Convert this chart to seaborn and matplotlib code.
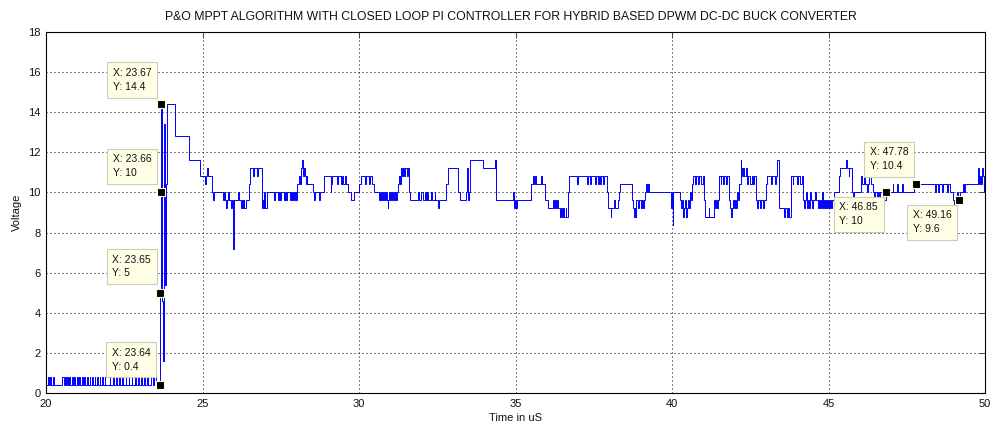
import numpy as np
import pandas as pd
import matplotlib
matplotlib.use("Agg")
import matplotlib.pyplot as plt
import seaborn as sns

# ---------------- data ----------------
# baseline chatter before the start-up (time in uS, voltage)
t_base = [20.00, 20.06, 20.10, 20.13, 20.17, 20.21, 20.25, 20.36, 20.52, 20.56,
          20.60, 20.63, 20.67, 20.70, 20.75, 20.78, 20.83, 20.86, 20.91, 20.94,
          20.99, 21.02, 21.07, 21.10, 21.15, 21.18, 21.23, 21.26, 21.31, 21.34,
          21.39, 21.42, 21.47, 21.50, 21.55, 21.58, 21.63, 21.66, 21.71, 21.74,
          21.79, 21.82, 21.87, 21.90, 21.96, 22.04, 22.06, 22.14, 22.16, 22.24,
          22.26, 22.34, 22.36, 22.44, 22.46, 22.54, 22.56, 22.64, 22.66, 22.74,
          22.76, 22.84, 22.86, 22.94, 22.96, 23.04, 23.06, 23.14, 23.16, 23.24,
          23.26, 23.34, 23.42, 23.46, 23.50]
v_base = [0.4, 0.8, 0.4, 0.8, 0.4, 0.8, 0.4, 0.4, 0.8, 0.4,
          0.8, 0.4, 0.8, 0.4, 0.8, 0.4, 0.8, 0.4, 0.8, 0.4,
          0.8, 0.4, 0.8, 0.4, 0.8, 0.4, 0.8, 0.4, 0.8, 0.4,
          0.8, 0.4, 0.8, 0.4, 0.8, 0.4, 0.8, 0.4, 0.8, 0.4,
          0.8, 0.4, 0.8, 0.4, 0.4, 0.8, 0.4, 0.8, 0.4, 0.8,
          0.4, 0.8, 0.4, 0.8, 0.4, 0.8, 0.4, 0.8, 0.4, 0.8,
          0.4, 0.8, 0.4, 0.8, 0.4, 0.8, 0.4, 0.8, 0.4, 0.8,
          0.4, 0.8, 0.4, 0.8, 0.4]

# start-up transient
t_rise = [23.64, 23.65, 23.66, 23.67, 23.715, 23.72, 23.725, 23.76, 23.79, 23.83,
          23.86, 24.13, 24.56, 24.93, 25.08, 25.11, 25.15, 25.19, 25.29, 25.33]
v_rise = [0.4, 5.0, 10.0, 14.4, 5.2, 4.6, 1.6, 13.4, 5.4, 10.4,
          14.4, 12.8, 11.6, 10.8, 10.4, 10.8, 11.2, 10.8, 10.0, 9.6]

t_mid1 = [25.36, 25.65, 25.70, 25.72, 25.74, 25.77, 25.82, 25.84, 25.90, 25.93,
          25.96, 25.99, 26.01, 26.03, 26.14, 26.16, 26.22, 26.25, 26.28, 26.31,
          26.34, 26.38, 26.49, 26.52, 26.62, 26.65, 26.74, 26.77, 26.89, 26.93,
          26.95, 26.98, 27.00, 27.05, 27.29, 27.31, 27.41, 27.45, 27.48, 27.50,
          27.60, 27.63, 27.66, 27.69, 27.80, 27.83, 27.86, 27.89, 27.92, 27.95,
          27.98, 28.01, 28.03, 28.07, 28.11, 28.14, 28.17, 28.20, 28.23, 28.26,
          28.30, 28.33, 28.35, 28.52, 28.57, 28.60, 28.72, 28.75, 28.87, 29.10,
          29.12, 29.15, 29.30, 29.33, 29.43, 29.46, 29.50, 29.55, 29.60, 29.64,
          29.74, 29.83, 30.01, 30.06, 30.20, 30.23, 30.33, 30.36, 30.42, 30.47,
          30.65, 30.68, 30.71, 30.74, 30.77, 30.80, 30.83, 30.86, 30.89, 30.92,
          30.94, 30.97, 31.00, 31.03, 31.06, 31.09, 31.12, 31.15, 31.18, 31.21]
v_mid1 = [10.0, 9.6, 10.0, 9.6, 9.2, 9.6, 10.0, 9.6, 9.2, 9.6,
          9.2, 7.2, 9.6, 9.6, 10.0, 9.6, 9.2, 9.6, 9.2, 9.6,
          9.2, 9.6, 10.4, 11.2, 10.8, 11.2, 10.8, 11.2, 9.2, 9.6,
          9.2, 10.0, 9.2, 10.0, 9.6, 10.0, 9.6, 10.0, 9.6, 10.0,
          9.6, 10.0, 9.6, 10.0, 9.6, 10.0, 9.6, 10.0, 9.6, 10.0,
          9.6, 10.0, 10.4, 10.8, 10.4, 11.2, 11.6, 10.8, 11.2, 10.8,
          10.4, 10.8, 10.4, 10.0, 9.6, 10.0, 9.6, 10.0, 10.8, 10.0,
          10.4, 10.8, 10.4, 10.8, 10.4, 10.8, 10.4, 10.8, 10.4, 10.0,
          9.6, 10.0, 10.4, 10.8, 10.4, 10.8, 10.4, 10.8, 10.4, 10.0,
          9.6, 10.0, 9.6, 10.0, 9.6, 10.0, 9.6, 10.0, 9.6, 9.2,
          9.6, 10.0, 9.6, 10.0, 9.6, 10.0, 9.6, 10.0, 9.6, 10.0]

t_mid2 = [31.24, 31.28, 31.31, 31.34, 31.38, 31.40, 31.45, 31.48, 31.52, 31.55,
          31.61, 31.64, 31.88, 31.91, 31.98, 32.04, 32.10, 32.13, 32.18, 32.22,
          32.30, 32.33, 32.42, 32.44, 32.52, 32.54, 32.79, 32.83, 33.16, 33.24,
          33.43, 33.46, 33.48, 33.52, 33.56, 33.96, 34.36, 34.38, 34.93, 34.96,
          34.98, 35.01, 35.04, 35.51, 35.55, 35.58, 35.62, 35.65, 35.80, 35.84,
          35.94, 36.05, 36.21, 36.24, 36.27, 36.30, 36.34, 36.37, 36.42, 36.46,
          36.48, 36.53, 36.55, 36.60, 36.62, 36.69, 36.72, 36.96, 36.99, 37.28,
          37.31, 37.38, 37.42]
v_mid2 = [10.4, 10.8, 10.4, 11.2, 10.8, 11.2, 10.8, 11.2, 10.8, 11.2,
          10.0, 9.6, 10.0, 9.6, 10.0, 9.6, 10.0, 9.6, 10.0, 9.6,
          10.0, 9.6, 10.0, 9.6, 9.2, 9.6, 10.4, 11.2, 10.0, 9.6,
          10.0, 11.2, 9.6, 10.0, 11.6, 11.2, 11.6, 9.6, 10.0, 9.2,
          9.6, 9.2, 9.6, 10.4, 10.8, 10.4, 10.8, 10.4, 10.8, 10.4,
          9.6, 9.2, 9.6, 9.2, 9.6, 9.2, 9.6, 9.2, 8.8, 9.2,
          8.8, 9.2, 8.8, 9.2, 8.8, 10.0, 10.8, 10.4, 10.8, 10.4,
          10.8, 10.4, 10.8]

t_mid3 = [37.54, 37.58, 37.62, 37.66, 37.70, 37.74, 37.80, 37.84, 37.92, 37.95,
          38.04, 38.06, 38.15, 38.17, 38.29, 38.31, 38.33, 38.72, 38.76, 38.79,
          38.81, 38.84, 38.86, 38.92, 38.95, 39.00, 39.03, 39.08, 39.11, 39.15,
          39.17, 39.20, 39.23, 39.25, 39.98, 40.00, 40.02, 40.04, 40.27, 40.30,
          40.33, 40.36, 40.38, 40.43, 40.46, 40.49, 40.52, 40.55, 40.58, 40.61,
          40.64, 40.68, 40.72, 40.76, 40.82, 40.86, 40.92, 40.98, 41.01, 41.04,
          41.07, 41.17, 41.19, 41.34, 41.37, 41.40, 41.44, 41.47, 41.50, 41.55,
          41.58, 41.62, 41.66, 41.72, 41.75, 41.82, 41.86, 41.89, 41.91, 41.95,
          41.98, 42.02, 42.05, 42.08, 42.12, 42.15, 42.19, 42.22, 42.25, 42.28,
          42.31, 42.35, 42.40, 42.44, 42.50, 42.54, 42.60, 42.63, 42.67, 42.70,
          42.76, 42.80, 42.85, 42.90, 42.95, 42.99, 43.05, 43.15, 43.18, 43.28,
          43.32, 43.37, 43.43, 43.58, 43.62, 43.66, 43.70, 43.74, 43.79, 43.85,
          43.88, 43.98, 44.02, 44.10, 44.14]
v_mid3 = [10.4, 10.8, 10.4, 10.8, 10.4, 10.8, 10.4, 10.8, 10.0, 9.2,
          8.8, 9.2, 9.6, 9.2, 9.6, 10.0, 10.4, 9.6, 9.2, 8.8,
          9.2, 8.8, 9.6, 9.2, 9.6, 9.2, 9.6, 9.2, 9.6, 10.0,
          10.4, 10.0, 10.4, 10.0, 9.2, 10.0, 8.4, 10.0, 9.6, 9.2,
          9.6, 8.8, 9.2, 9.6, 8.8, 9.2, 9.6, 9.2, 10.0, 9.6,
          10.4, 10.8, 10.4, 10.8, 10.4, 10.8, 10.4, 10.8, 9.6, 9.2,
          8.8, 9.2, 8.8, 9.6, 9.2, 9.6, 9.2, 9.6, 10.8, 10.4,
          10.8, 10.4, 10.8, 10.4, 10.8, 9.6, 9.2, 8.8, 9.2, 9.6,
          9.2, 9.6, 9.2, 10.0, 9.6, 10.4, 11.6, 11.2, 10.8, 11.2,
          10.8, 11.2, 10.4, 10.8, 10.4, 10.8, 10.4, 10.8, 9.6, 9.2,
          9.6, 9.2, 9.6, 9.2, 9.6, 10.4, 10.8, 10.4, 10.8, 10.4,
          10.8, 11.6, 9.2, 8.8, 9.2, 8.8, 9.2, 8.8, 10.8, 10.4,
          10.8, 10.4, 10.8, 10.4, 10.8]

t_end = [44.17, 44.20, 44.23, 44.26, 44.29, 44.32, 44.35, 44.39, 44.42, 44.45,
         44.48, 44.52, 44.56, 44.60, 44.65, 44.68, 44.71, 44.74, 44.77, 44.80,
         44.83, 44.86, 44.89, 44.92, 44.95, 44.98, 45.01, 45.04, 45.08, 45.12,
         45.18, 45.34, 45.38, 45.55, 45.59, 45.64, 45.67, 45.75, 45.78, 45.81,
         46.03, 46.07, 46.12, 46.18, 46.22, 46.25, 46.30, 46.35, 46.42, 46.46,
         46.49, 46.54, 46.57, 46.62, 46.65, 46.70, 46.73, 46.78, 46.85, 47.05,
         47.07, 47.20, 47.22, 47.35, 47.37, 47.72, 48.39, 48.42, 48.50, 48.53,
         48.62, 48.66, 48.80, 48.83, 48.87, 48.98, 49.01, 49.05, 49.10, 49.13,
         49.20, 49.30, 49.33, 49.36, 49.78, 49.81, 49.84, 49.88, 49.92, 49.94,
         49.96, 49.98, 50.00]
v_end = [10.0, 9.6, 9.2, 9.6, 10.0, 9.2, 9.6, 9.2, 10.0, 9.6,
         9.2, 9.6, 10.0, 9.6, 9.2, 9.6, 9.2, 9.6, 9.2, 10.0,
         9.2, 9.6, 9.2, 9.6, 9.2, 9.6, 9.2, 9.6, 9.2, 9.6,
         10.0, 10.8, 11.2, 11.6, 11.2, 10.8, 11.2, 10.0, 9.6, 10.0,
         10.8, 10.4, 10.8, 10.4, 10.0, 10.4, 10.8, 10.4, 10.0, 9.2,
         10.0, 9.2, 10.0, 9.2, 10.0, 9.2, 10.0, 9.6, 10.0, 10.4,
         10.0, 10.4, 10.0, 10.4, 10.0, 10.4, 10.0, 10.4, 10.0, 10.4,
         10.0, 10.4, 10.0, 10.4, 10.0, 9.6, 9.2, 9.6, 10.0, 9.6,
         10.0, 10.4, 10.0, 10.4, 11.2, 10.4, 10.8, 10.4, 11.2, 10.8,
         10.0, 10.4, 10.4]

# data tips
tip_t = [23.67, 23.66, 23.65, 23.64, 46.85, 47.78, 49.16]
tip_v = [14.4, 10, 5, 0.4, 10, 10.4, 9.6]
tip_lbl_x = ["23.67", "23.66", "23.65", "23.64", "46.85", "47.78", "49.16"]
tip_lbl_y = ["14.4", "10", "5", "0.4", "10", "10.4", "9.6"]

x_ticks = [20, 25, 30, 35, 40, 45, 50]
y_ticks = [0, 2, 4, 6, 8, 10, 12, 14, 16, 18]

title = "P&O MPPT ALGORITHM WITH CLOSED LOOP PI CONTROLLER FOR HYBRID BASED DPWM DC-DC BUCK CONVERTER"

# ---------------- plotting ----------------
sns.set_style("white")
plt.rcParams["font.family"] = ["Liberation Sans", "DejaVu Sans"]
plt.rcParams["text.color"] = "#111111"
plt.rcParams["axes.labelcolor"] = "#111111"
plt.rcParams["xtick.labelcolor"] = "#111111"
plt.rcParams["ytick.labelcolor"] = "#111111"

df = pd.DataFrame({
    "t": t_base + t_rise + t_mid1 + t_mid2 + t_mid3 + t_end,
    "v": v_base + v_rise + v_mid1 + v_mid2 + v_mid3 + v_end,
})
tips = pd.DataFrame({"t": tip_t, "v": tip_v})

fig = plt.figure(figsize=(9.91, 4.28), dpi=100)
fig.patch.set_facecolor("white")
ax = fig.add_axes([46 / 991, 1 - 393 / 428, (985 - 46) / 991, (393 - 32) / 428])

sns.lineplot(data=df, x="t", y="v", ax=ax, estimator=None, sort=False,
             drawstyle="steps-post", color="#0000FF", linewidth=0.7)

ax.set_xlim(20, 50)
ax.set_ylim(0, 18)
ax.set_xticks(x_ticks)
ax.set_yticks(y_ticks)
ax.grid(True, color="black", linestyle=(0, (1, 3)), linewidth=0.72)
for s in ax.spines.values():
    s.set_color("black")
    s.set_linewidth(0.8)
    s.set_visible(True)
ax.tick_params(direction="in", length=4, width=0.7, color="#404040",
               top=True, right=True, labelsize=8, pad=4)
ax.set_title(title, fontsize=8.8, pad=9, x=0.495)

# data tip boxes
offsets = [(-48, 36), (-48, 38), (-48, 38), (-48, 37), (-47, -10), (-46, 37), (-46, -10)]
for tt, vv, lx, ly, (dx, dy) in zip(tip_t, tip_v, tip_lbl_x, tip_lbl_y, offsets):
    ax.annotate(f"X: {lx}\nY: {ly}", xy=(tt, vv), xytext=(dx, dy),
                textcoords="offset pixels", ha="left", va="top", fontsize=7.5,
                linespacing=1.45, zorder=5,
                bbox=dict(boxstyle="square,pad=0.55", fc="#FFFFE6", ec="#CCCCBB", lw=0.8))

sns.scatterplot(data=tips, x="t", y="v", ax=ax, marker="s", s=38, color="black",
                edgecolor="#FFFFC8", linewidth=0.8, zorder=6)
ax.set_xlabel("Time in uS", fontsize=8, labelpad=3)
ax.set_ylabel("Voltage", fontsize=8, labelpad=4)

fig.savefig("out.png", dpi=100, facecolor="white")
